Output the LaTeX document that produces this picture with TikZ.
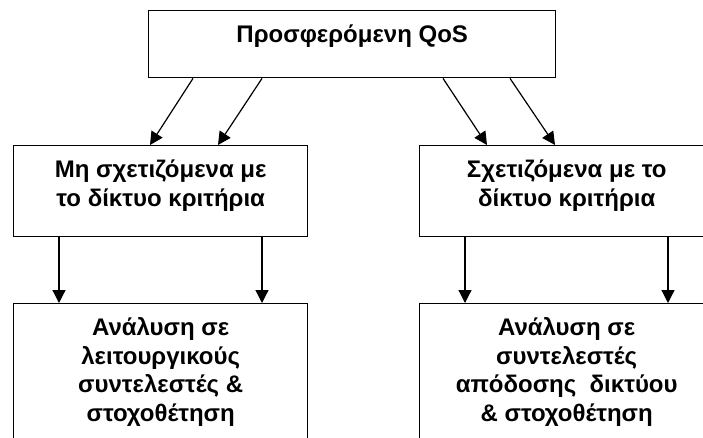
\documentclass[tikz,border=0pt]{standalone}
\usepackage{fontspec}
\setmainfont{Liberation Sans}
\usetikzlibrary{arrows.meta}

% box text: width, height, lines (top aligned)
\newcommand{\qostext}[3]{\parbox[t][#2][t]{#1}{\centering\rule{0pt}{32pt}#3}}

\tikzset{
	critbox/.style={draw, line width=1.4pt, inner sep=0pt, anchor=north west,
		font=\bfseries\fontsize{24}{28.5}\selectfont},
	flow/.style={-{Triangle[length=13pt, width=13pt]}, line width=1.2pt},
}

\begin{document}
\begin{tikzpicture}[x=1pt, y=-1pt]
	\useasboundingbox (0,0) rectangle (703,437);
	\node[critbox] (qos) at (148,10) {\qostext{407pt}{67pt}{Προσφερόμενη QoS}};
	\node[critbox] (nonnet) at (13,145) {\qostext{294pt}{91pt}{Μη σχετιζόμενα με\\ το δίκτυο κριτήρια}};
	\node[critbox] (net) at (419,145) {\qostext{294pt}{91pt}{Σχετιζόμενα με το\\ δίκτυο κριτήρια}};
	\node[critbox] (oper) at (13,303) {\qostext{294pt}{150pt}{Ανάλυση σε\\ λειτουργικούς\\ συντελεστές \&\\ στοχοθέτηση}};
	\node[critbox] (perf) at (419,303) {\qostext{294pt}{150pt}{Ανάλυση σε\\ συντελεστές\\ απόδοσης\ \ δικτύου\\ \& στοχοθέτηση}};
	% from the top box
	\draw[flow] ([xshift=45pt]qos.south west) -- ([xshift=137pt]nonnet.north west);
	\draw[flow] ([xshift=114pt]qos.south west) -- ([xshift=205pt]nonnet.north west);
	\draw[flow] ([xshift=295pt]qos.south west) -- ([xshift=68pt]net.north west);
	\draw[flow] ([xshift=362pt]qos.south west) -- ([xshift=136pt]net.north west);
	% down to the analysis boxes
	\foreach \src/\dst in {nonnet/oper, net/perf} {
		\draw[flow] ([xshift=46pt]\src.south west) -- ([xshift=46pt]\dst.north west);
		\draw[flow] ([xshift=249pt]\src.south west) -- ([xshift=249pt]\dst.north west);
	}
\end{tikzpicture}
\end{document}
